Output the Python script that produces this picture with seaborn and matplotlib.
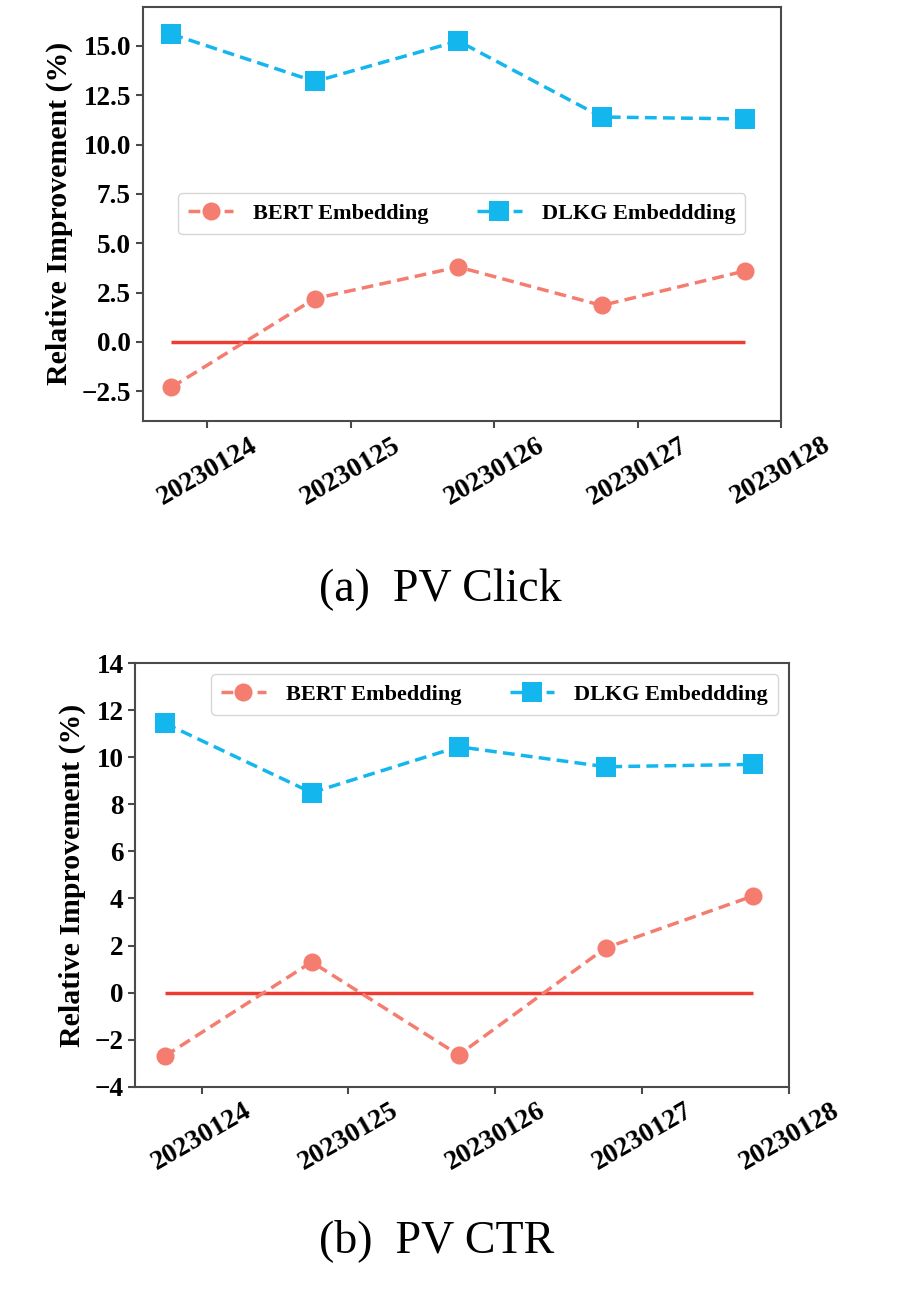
import numpy as np
import matplotlib
matplotlib.use("Agg")
import matplotlib.pyplot as plt
import seaborn as sns

dates = ["20230124", "20230125", "20230126", "20230127", "20230128"]

click_bert = [-2.3, 2.2, 3.8, 1.85, 3.6]
click_dlkg = [15.6, 13.2, 15.25, 11.4, 11.3]
ctr_bert = [-2.7, 1.3, -2.65, 1.9, 4.1]
ctr_dlkg = [11.45, 8.5, 10.45, 9.6, 9.7]

click_yticks = [-2.5, 0.0, 2.5, 5.0, 7.5, 10.0, 12.5, 15.0]
ctr_yticks = [-4, -2, 0, 2, 4, 6, 8, 10, 12, 14]

bert_color = "#F47D70"
dlkg_color = "#14B6EE"
zero_color = "#EC3C34"
serif = "Liberation Serif"
dash = (0, (3.4, 1.8))

sns.set_style("white")
plt.rcParams["font.family"] = [serif, "DejaVu Sans"]
plt.rcParams["text.color"] = "black"
plt.rcParams["axes.labelcolor"] = "black"
plt.rcParams["xtick.color"] = "black"
plt.rcParams["ytick.color"] = "black"


def draw(ax, bert, dlkg, yticks, ylim, yfmt, legend_loc):
    pos = np.arange(len(dates))
    sns.lineplot(x=pos, y=bert, ax=ax, color=bert_color, marker="o", markersize=13,
                 markeredgewidth=0, linestyle=dash, linewidth=2.5, label="BERT Embedding")
    sns.lineplot(x=pos, y=dlkg, ax=ax, color=dlkg_color, marker="s", markersize=14,
                 markeredgewidth=0, linestyle=dash, linewidth=2.5, label="DLKG Embeddding")
    ax.hlines(0, pos[0], pos[-1], color=zero_color, linewidth=2.5, zorder=1)

    ax.set_xlim(pos[0] - 0.2, pos[-1] + 0.25)
    ax.set_xticks(pos + 0.25)
    ax.set_xticklabels(dates, rotation=30, ha="center", fontsize=20, fontweight="bold")
    ax.set_ylim(*ylim)
    ax.set_yticks(yticks)
    ax.set_yticklabels([yfmt.format(v).replace("-", "\u2212") for v in yticks],
                       fontsize=19.5, fontweight="bold")
    ax.set_ylabel("Relative Improvement (%)", fontsize=21.5, fontweight="bold", labelpad=6)

    for s in ax.spines.values():
        s.set_color("#4a4a4a")
        s.set_linewidth(1.5)
    ax.tick_params(direction="out", length=5, width=1.5, color="#4a4a4a", bottom=True, left=True)

    ax.legend(loc=legend_loc, ncol=2, prop={"family": serif, "weight": "bold", "size": 16},
              handlelength=2, handletextpad=0.9, columnspacing=2.2, borderpad=0.45)


fig = plt.figure(figsize=(9.21, 13.03), dpi=100)
ax1 = fig.add_axes([0.155, 0.677, 0.693, 0.318])
ax2 = fig.add_axes([0.147, 0.166, 0.710, 0.325])

draw(ax1, click_bert, click_dlkg, click_yticks, (-4, 17), "{:.1f}", "center")
draw(ax2, ctr_bert, ctr_dlkg, ctr_yticks, (-4, 14), "{:d}", "upper right")

fig.text(0.478, 0.547, "(a)  PV Click", ha="center", va="center", fontsize=33, family=serif)
fig.text(0.474, 0.048, "(b)  PV CTR", ha="center", va="center", fontsize=33, family=serif)

fig.savefig("out.png", dpi=100)
